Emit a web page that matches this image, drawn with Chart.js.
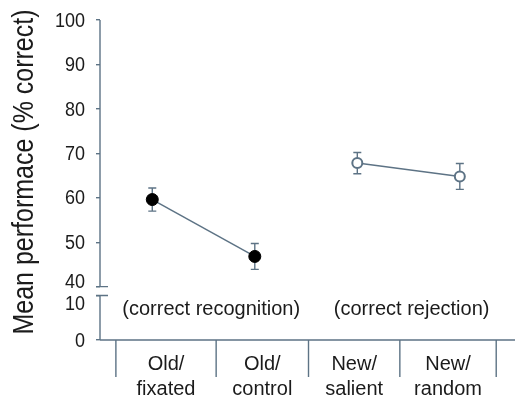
<!DOCTYPE html>
<html><head><meta charset="utf-8">
<script src="https://cdn.jsdelivr.net/npm/chart.js@4"></script>
<style>html,body{margin:0;padding:0;background:#fff}#wrap{width:515px;height:398px;position:relative}</style>
</head><body><div id="wrap"><canvas id="c" width="515" height="398"></canvas></div>
<script>
const categories = [["Old/","fixated"],["Old/","control"],["New/","salient"],["New/","random"]];
const recognitionMeans = [59.6, 46.8];
const recognitionErr = [2.6, 2.9];
const rejectionMeans = [67.8, 64.8];
const rejectionErr = [2.4, 2.9];
const yTickLabels = [0, 10, 40, 50, 60, 70, 80, 90, 100];
const groupLabels = ["(correct recognition)", "(correct rejection)"];
const yTitle = "Mean performace (% correct)";

// broken axis: 0-10 shown, then 40-100 after a small gap
const BREAK_LO = 10, BREAK_HI = 40, GAP = 2;
const axisVal = v => v >= BREAK_HI ? v - BREAK_HI + BREAK_LO + GAP : v;

const SLATE = '#5d7385';
const TEXT = '#1b1b1b';
const FONT = '"Liberation Sans", Arial, sans-serif';
const cellEdges = [-0.355, 0.623, 1.524, 2.415, 3.355];
const groupCenters = [0.575, 2.53];

const recData = recognitionMeans.map((m, i) => ({x: i, y: axisVal(m)}));
const rejData = rejectionMeans.map((m, i) => ({x: i + 2, y: axisVal(m)}));
const errSets = [recognitionMeans.map((m,i)=>[i, m, recognitionErr[i]]),
                 rejectionMeans.map((m,i)=>[i+2, m, rejectionErr[i]])];

const decor = {
  id: 'decor',
  beforeDatasetsDraw(chart) {
    const {ctx, scales: {x, y}} = chart;
    ctx.save();
    ctx.strokeStyle = SLATE; ctx.lineWidth = 1.4;
    errSets.flat().forEach(([xi, m, e]) => {
      const px = x.getPixelForValue(xi);
      const t = y.getPixelForValue(axisVal(m + e));
      const b = y.getPixelForValue(axisVal(m - e));
      ctx.beginPath();
      ctx.moveTo(px, t); ctx.lineTo(px, b);
      ctx.moveTo(px - 4, t); ctx.lineTo(px + 4, t);
      ctx.moveTo(px - 4, b); ctx.lineTo(px + 4, b);
      ctx.stroke();
    });
    ctx.restore();
  },
  afterDraw(chart) {
    const {ctx, chartArea: a, scales: {x, y}} = chart;
    ctx.save();
    ctx.strokeStyle = SLATE; ctx.lineWidth = 1.4;
    const yTop = y.getPixelForValue(axisVal(100));
    const y40 = y.getPixelForValue(axisVal(40));
    const y10 = y.getPixelForValue(10);
    const y0 = y.getPixelForValue(0);
    ctx.beginPath();
    ctx.moveTo(a.left, yTop); ctx.lineTo(a.left, y40);
    ctx.moveTo(a.left, y10); ctx.lineTo(a.left, y0);
    ctx.moveTo(a.left - 4, y40); ctx.lineTo(a.left + 8, y40);
    ctx.moveTo(a.left - 4, y10); ctx.lineTo(a.left + 8, y10);
    // x axis
    ctx.moveTo(a.left, y0); ctx.lineTo(chart.width, y0);
    cellEdges.forEach(e => {
      const px = x.getPixelForValue(e);
      ctx.moveTo(px, y0); ctx.lineTo(px, y0 + 37);
    });
    ctx.stroke();

    ctx.fillStyle = TEXT;
    // y tick labels (slightly tall glyphs as in the reference)
    ctx.font = '18px ' + FONT;
    ctx.textAlign = 'right'; ctx.textBaseline = 'middle';
    yTickLabels.forEach(v => {
      let py = y.getPixelForValue(axisVal(v));
      if (v === BREAK_HI) py -= 5;
      if (v === BREAK_LO) py += 8;
      ctx.save();
      ctx.translate(a.left - 15, py + 1);
      ctx.scale(1, 1.13);
      ctx.fillText(String(v), 0, 0);
      ctx.restore();
    });
    // title
    ctx.save();
    ctx.font = '25px ' + FONT;
    ctx.textAlign = 'center'; ctx.textBaseline = 'alphabetic';
    ctx.translate(33, 172);
    ctx.rotate(-Math.PI / 2);
    ctx.scale(1, 1.15);
    ctx.fillText(yTitle, 0, 0);
    ctx.restore();
    // category labels
    ctx.font = '20px ' + FONT;
    ctx.textAlign = 'center';
    categories.forEach((c, i) => {
      const cx = (x.getPixelForValue(cellEdges[i]) + x.getPixelForValue(cellEdges[i + 1])) / 2;
      ctx.fillText(c[0], cx, y0 + 24);
      ctx.fillText(c[1], cx, y0 + 49);
    });
    // group labels
    groupLabels.forEach((g, i) => {
      ctx.fillText(g, x.getPixelForValue(groupCenters[i]), y.getPixelForValue(6.8));
    });
    ctx.restore();
  }
};

new Chart(document.getElementById('c'), {
  type: 'line',
  data: {
    datasets: [
      {data: recData, borderColor: SLATE, borderWidth: 1.5, pointRadius: 6,
       pointBackgroundColor: '#000', pointBorderColor: '#000', pointBorderWidth: 1},
      {data: rejData, borderColor: SLATE, borderWidth: 1.5, pointRadius: 5,
       pointBackgroundColor: '#fff', pointBorderColor: SLATE, pointBorderWidth: 2}
    ]
  },
  options: {
    responsive: false, devicePixelRatio: 1, animation: false,
    layout: {padding: {top: 20, right: 0, bottom: 58, left: 0}},
    plugins: {legend: {display: false}, tooltip: {enabled: false}},
    elements: {line: {tension: 0}},
    scales: {
      x: {type: 'linear', min: -0.51, max: 3.47, display: false},
      y: {type: 'linear', min: 0, max: 72, display: true,
          afterFit: s => { s.width = 100; },
          afterBuildTicks: s => { s.ticks = yTickLabels.map(v => ({value: axisVal(v)})); },
          ticks: {display: false},
          grid: {drawOnChartArea: false, drawTicks: true, tickLength: 4, color: SLATE, lineWidth: 1.4},
          border: {display: false}}
    }
  },
  plugins: [decor]
});
</script></body></html>
